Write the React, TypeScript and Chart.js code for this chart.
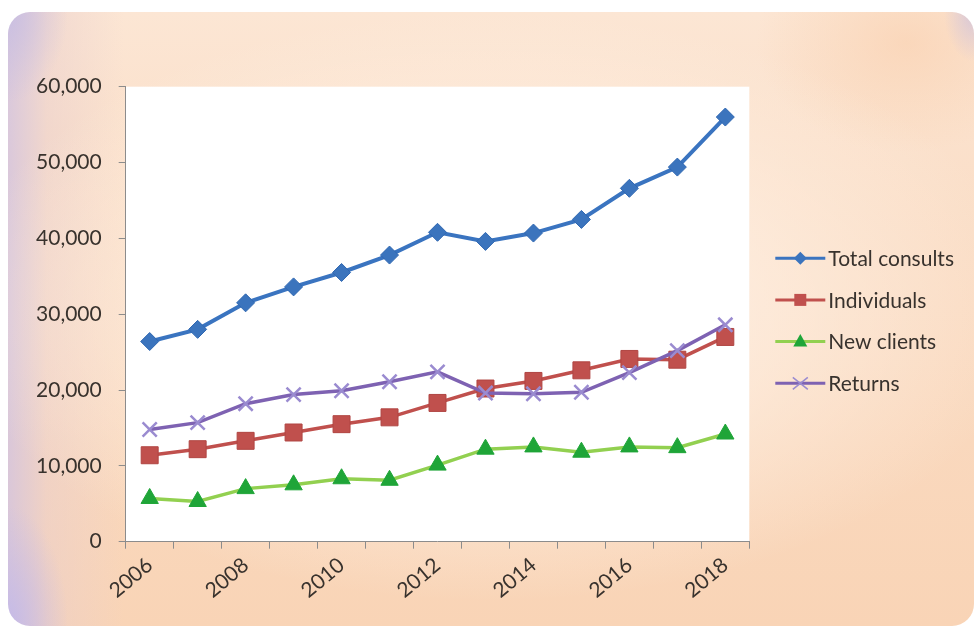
import React, { useEffect, useRef } from 'react';
import { Chart, registerables } from 'chart.js';

Chart.register(...registerables);

const years = ['2006', '2007', '2008', '2009', '2010', '2011', '2012', '2013', '2014', '2015', '2016', '2017', '2018'];
const totalConsults = [26400, 28000, 31500, 33600, 35500, 37800, 40800, 39600, 40700, 42500, 46600, 49400, 56000];
const individuals = [11400, 12200, 13300, 14400, 15500, 16400, 18300, 20200, 21200, 22600, 24100, 24000, 27000];
const newClients = [5700, 5300, 7000, 7500, 8300, 8100, 10100, 12200, 12500, 11800, 12500, 12400, 14200];
const returnsData = [14800, 15700, 18200, 19400, 19900, 21100, 22400, 19600, 19500, 19700, 22300, 25200, 28600];
const seriesNames = ['Total consults', 'Individuals', 'New clients', 'Returns'];
const yMin = 0;
const yMax = 60000;
const yStep = 10000;

const FONT = 'Lato, "Open Sans", sans-serif';
const TEXT = '#38322d';
const AXIS = '#8c8c8c';

function drawMarker(ctx: CanvasRenderingContext2D, style: string, x: number, y: number, r: number, fill: string, stroke: string, lw: number) {
  ctx.save();
  ctx.fillStyle = fill;
  ctx.strokeStyle = stroke;
  ctx.lineWidth = lw;
  ctx.beginPath();
  if (style === 'rectRot') {
    ctx.moveTo(x, y - r);
    ctx.lineTo(x + r, y);
    ctx.lineTo(x, y + r);
    ctx.lineTo(x - r, y);
    ctx.closePath();
    ctx.fill();
  } else if (style === 'rect') {
    ctx.rect(x - r, y - r, 2 * r, 2 * r);
    ctx.fill();
  } else if (style === 'triangle') {
    ctx.moveTo(x, y - r * 1.1);
    ctx.lineTo(x + r, y + r * 0.7);
    ctx.lineTo(x - r, y + r * 0.7);
    ctx.closePath();
    ctx.fill();
  } else {
    ctx.moveTo(x - r, y - r * 0.8);
    ctx.lineTo(x + r, y + r * 0.8);
    ctx.moveTo(x + r, y - r * 0.8);
    ctx.lineTo(x - r, y + r * 0.8);
    ctx.stroke();
  }
  ctx.restore();
}

const plotBg = {
  id: 'plotBg',
  beforeDraw(chart: any) {
    const { ctx, chartArea } = chart;
    ctx.save();
    ctx.fillStyle = '#ffffff';
    ctx.fillRect(chartArea.left, chartArea.top, chartArea.right - chartArea.left, chartArea.bottom - chartArea.top);
    ctx.restore();
  },
};

const sideLegend = {
  id: 'sideLegend',
  afterDraw(chart: any) {
    const { ctx, chartArea } = chart;
    const x0 = chartArea.right + 26;
    const lineLen = 50;
    const y0 = chartArea.top + 171.5;
    const gap = 41.7;
    const markers = [
      { style: 'rectRot', r: 6.5, fill: '#3b74bd', stroke: '#3b74bd', lw: 1 },
      { style: 'rect', r: 6, fill: '#c0504d', stroke: '#c0504d', lw: 1 },
      { style: 'triangle', r: 7, fill: '#1fa538', stroke: '#1fa538', lw: 1 },
      { style: 'cross', r: 7.5, fill: '#9a8bd0', stroke: '#9a8bd0', lw: 1.5 },
    ];
    chart.data.datasets.forEach((ds: any, i: number) => {
      const y = y0 + i * gap;
      ctx.save();
      ctx.strokeStyle = ds.borderColor;
      ctx.lineWidth = 3;
      ctx.beginPath();
      ctx.moveTo(x0, y);
      ctx.lineTo(x0 + lineLen, y);
      ctx.stroke();
      ctx.restore();
      const m = markers[i];
      drawMarker(ctx, m.style, x0 + lineLen / 2, y, m.r, m.fill, m.stroke, m.lw);
      ctx.save();
      ctx.fillStyle = TEXT;
      ctx.font = `21px ${FONT}`;
      ctx.textAlign = 'left';
      ctx.textBaseline = 'middle';
      ctx.fillText(ds.label, x0 + lineLen + 3, y + 1);
      ctx.restore();
    });
  },
};

export default function App() {
  const ref = useRef<HTMLCanvasElement | null>(null);

  useEffect(() => {
    if (!ref.current) return;
    const chart = new Chart(ref.current, {
      type: 'line',
      data: {
        labels: years,
        datasets: [
          {
            label: seriesNames[0],
            data: totalConsults,
            borderColor: '#3a74c0',
            borderWidth: 4,
            pointStyle: 'rectRot',
            pointRadius: 9,
            pointBackgroundColor: '#3b74bd',
            pointBorderColor: '#3068b2',
            pointBorderWidth: 1,
            order: 3,
          },
          {
            label: seriesNames[1],
            data: individuals,
            borderColor: '#c0504d',
            borderWidth: 3.5,
            pointStyle: 'rect',
            pointRadius: 12,
            pointBackgroundColor: '#c0504d',
            pointBorderColor: '#b04542',
            pointBorderWidth: 1,
            order: 2,
          },
          {
            label: seriesNames[2],
            data: newClients,
            borderColor: '#92d050',
            borderWidth: 3.5,
            pointStyle: 'triangle',
            pointRadius: 10,
            pointBackgroundColor: '#1fa538',
            pointBorderColor: '#1fa538',
            pointBorderWidth: 1,
            order: 1,
          },
          {
            label: seriesNames[3],
            data: returnsData,
            borderColor: '#7e62b2',
            borderWidth: 3.5,
            pointStyle: 'crossRot',
            pointRadius: 10,
            pointBackgroundColor: '#9a8bd0',
            pointBorderColor: '#9a8bd0',
            pointBorderWidth: 2.5,
            order: 0,
          },
        ],
      },
      options: {
        animation: false,
        responsive: true,
        maintainAspectRatio: false,
        events: [],
        layout: { padding: { top: 74.7, left: 20, right: 224.7, bottom: 0 } },
        plugins: { legend: { display: false }, tooltip: { enabled: false } },
        scales: {
          x: {
            type: 'category',
            offset: true,
            grid: { offset: true, drawOnChartArea: false, drawTicks: true, tickLength: 7, tickColor: AXIS },
            border: { color: AXIS, width: 1 },
            ticks: {
              autoSkip: false,
              minRotation: 40,
              maxRotation: 40,
              padding: 4,
              color: TEXT,
              font: { family: FONT, size: 21 },
              callback: (_v: any, i: number) => (i % 2 === 0 ? years[i] : ''),
            },
            afterFit: (s: any) => { s.height = 84.3; },
          },
          y: {
            min: yMin,
            max: yMax,
            grid: { drawOnChartArea: false, drawTicks: true, tickLength: 7, tickColor: AXIS },
            border: { color: AXIS, width: 1 },
            ticks: {
              stepSize: yStep,
              padding: 17,
              color: TEXT,
              font: { family: FONT, size: 21 },
              callback: (v: any) => Number(v).toLocaleString('en-US'),
            },
            afterFit: (s: any) => { s.width = 97.7; },
          },
        },
      },
      plugins: [plotBg, sideLegend],
    });
    return () => chart.destroy();
  }, []);

  const bg = [
    'radial-gradient(ellipse 70% 60% at 50% 48%, rgba(255,246,238,0.95) 0%, rgba(255,242,230,0.55) 45%, rgba(255,240,228,0) 80%)',
    'radial-gradient(ellipse 60px 120px at 0% 100%, rgba(196,186,232,0.95) 0%, rgba(196,186,232,0) 100%)',
    'radial-gradient(ellipse 60px 90px at 0% 0%, rgba(200,190,226,0.9) 0%, rgba(200,190,226,0) 100%)',
    'radial-gradient(ellipse 30px 50px at 100% 0%, rgba(205,192,220,0.8) 0%, rgba(205,192,220,0) 100%)',
    'radial-gradient(ellipse 150px 110px at 93% 5%, rgba(249,204,168,0.55) 0%, rgba(249,204,168,0) 100%)',
    'linear-gradient(to right, rgba(212,196,222,0.85) 0%, rgba(232,205,205,0.5) 4%, rgba(248,214,192,0) 12%)',
    'linear-gradient(to bottom, #fce6d4 0%, #fadcc4 40%, #f9d4b6 100%)',
  ].join(', ');

  return (
    <div
      style={{
        position: 'fixed',
        left: 8,
        top: 12,
        width: 966,
        height: 614,
        borderRadius: 22,
        overflow: 'hidden',
        background: bg,
      }}
    >
      <canvas ref={ref} style={{ display: 'block', width: '100%', height: '100%' }} />
    </div>
  );
}
